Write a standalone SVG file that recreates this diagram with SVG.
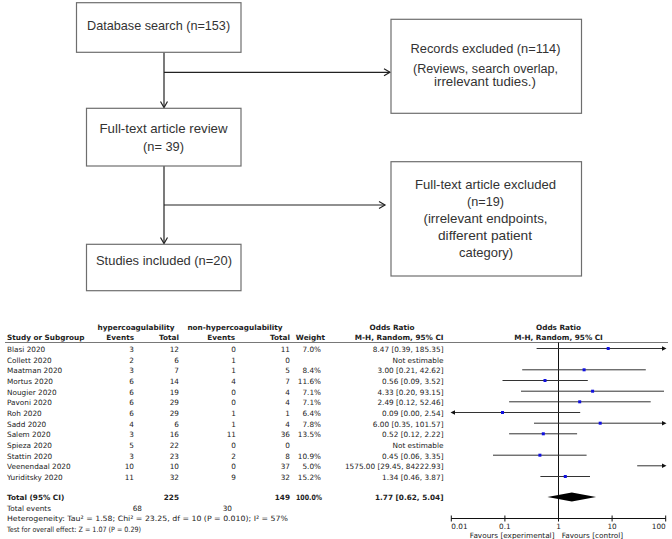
<svg xmlns="http://www.w3.org/2000/svg" width="672" height="539" viewBox="0 0 672 539">
<defs>
<style>
.box{fill:#fff;stroke:#6e6e6e;stroke-width:1.2}
.ft{font-family:"Liberation Sans",Arial,sans-serif;font-size:13px;fill:#333;text-anchor:middle}
.fs{font-size:12px}
.conn{stroke:#222;stroke-width:1.2;fill:none}
.t{font-family:"DejaVu Sans",Verdana,sans-serif;font-size:7.3px;fill:#222}
.b{font-weight:bold}
.e{text-anchor:end}
.m{text-anchor:middle}
.ci{stroke:#333;stroke-width:1;fill:none}
.pt{fill:#1010e0}
.ax{stroke:#111;stroke-width:1;fill:none}
</style>
<marker id="arr" markerWidth="10" markerHeight="10" refX="8" refY="5" orient="auto" markerUnits="userSpaceOnUse">
<polyline points="2,1.5 8,5 2,8.5" fill="none" stroke="#222" stroke-width="1.2"/>
</marker>
</defs>
<rect width="672" height="539" fill="#fff"/>

<g id="connectors">
<line class="conn" x1="164" y1="52.3" x2="164" y2="107.5" marker-end="url(#arr)"/>
<line class="conn" x1="164" y1="72.3" x2="390" y2="72.3" marker-end="url(#arr)"/>
<line class="conn" x1="164" y1="166" x2="164" y2="243.5" marker-end="url(#arr)"/>
<line class="conn" x1="164" y1="205" x2="385" y2="205" marker-end="url(#arr)"/>
</g>

<g id="database-search">
<rect class="box" x="76.5" y="2.7" width="164.5" height="49.6"/>
<text class="ft" x="158.6" y="29.5" textLength="143" lengthAdjust="spacingAndGlyphs">Database search (n=153)</text>
</g>
<g id="records-excluded">
<rect class="box" x="391" y="19.3" width="190.5" height="94"/>
<text class="ft" x="485.5" y="52.5" textLength="150" lengthAdjust="spacingAndGlyphs">Records excluded (n=114)</text>
<text class="ft fs" x="485.5" y="73" textLength="145" lengthAdjust="spacingAndGlyphs">(Reviews, search overlap,</text>
<text class="ft fs" x="485" y="85.5" textLength="102" lengthAdjust="spacingAndGlyphs">irrelevant tudies.)</text>
</g>
<g id="full-text-review">
<rect class="box" x="86.5" y="108.3" width="154.5" height="57.7"/>
<text class="ft" x="163.5" y="133" textLength="128" lengthAdjust="spacingAndGlyphs">Full-text article review</text>
<text class="ft" x="163.5" y="150.5" textLength="41" lengthAdjust="spacingAndGlyphs">(n= 39)</text>
</g>
<g id="full-text-excluded">
<rect class="box" x="391" y="161.7" width="190.5" height="114.3"/>
<text class="ft" x="485.5" y="188.5" textLength="141" lengthAdjust="spacingAndGlyphs">Full-text article excluded</text>
<text class="ft" x="485.5" y="206" textLength="37" lengthAdjust="spacingAndGlyphs">(n=19)</text>
<text class="ft" x="485.5" y="223" textLength="124" lengthAdjust="spacingAndGlyphs">(irrelevant endpoints,</text>
<text class="ft" x="485" y="240" textLength="94" lengthAdjust="spacingAndGlyphs">different patient</text>
<text class="ft" x="486" y="256.7" textLength="54" lengthAdjust="spacingAndGlyphs">category)</text>
</g>
<g id="studies-included">
<rect class="box" x="86.5" y="244.3" width="154.5" height="46.4"/>
<text class="ft" x="164" y="264.5" textLength="136" lengthAdjust="spacingAndGlyphs">Studies included (n=20)</text>
</g>

<g id="forest-table">
<text class="t b m" x="136" y="329.5">hypercoagulability</text>
<text class="t b m" x="235" y="329.5">non-hypercoagulability</text>
<text class="t b m" x="392" y="329.5">Odds Ratio</text>
<text class="t b m" x="558.5" y="329.5">Odds Ratio</text>
<text class="t b" x="7" y="340">Study or Subgroup</text>
<text class="t b e" x="134" y="340">Events</text>
<text class="t b e" x="179" y="340">Total</text>
<text class="t b e" x="235" y="340">Events</text>
<text class="t b e" x="290" y="340">Total</text>
<text class="t b e" x="325" y="340">Weight</text>
<text class="t b e" x="443.5" y="340">M-H, Random, 95% CI</text>
<text class="t b m" x="558.5" y="340">M-H, Random, 95% CI</text>
<line x1="5" y1="342.5" x2="668" y2="342.5" stroke="#555" stroke-width="0.8"/>

<g id="row-names">
<text class="t" x="7" y="351.8">Blasi 2020</text>
<text class="t" x="7" y="362.5">Collett 2020</text>
<text class="t" x="7" y="373.1">Maatman 2020</text>
<text class="t" x="7" y="383.8">Mortus 2020</text>
<text class="t" x="7" y="394.5">Nougier 2020</text>
<text class="t" x="7" y="405.1">Pavoni 2020</text>
<text class="t" x="7" y="415.8">Roh 2020</text>
<text class="t" x="7" y="426.5">Sadd 2020</text>
<text class="t" x="7" y="437.1">Salem 2020</text>
<text class="t" x="7" y="447.8">Spieza 2020</text>
<text class="t" x="7" y="458.5">Stattin 2020</text>
<text class="t" x="7" y="469.1">Veenendaal 2020</text>
<text class="t" x="7" y="479.8">Yuriditsky 2020</text>
</g>
<g id="col-hyper-events">
<text class="t e" x="134" y="351.8">3</text>
<text class="t e" x="134" y="362.5">2</text>
<text class="t e" x="134" y="373.1">3</text>
<text class="t e" x="134" y="383.8">6</text>
<text class="t e" x="134" y="394.5">6</text>
<text class="t e" x="134" y="405.1">6</text>
<text class="t e" x="134" y="415.8">6</text>
<text class="t e" x="134" y="426.5">4</text>
<text class="t e" x="134" y="437.1">3</text>
<text class="t e" x="134" y="447.8">5</text>
<text class="t e" x="134" y="458.5">3</text>
<text class="t e" x="134" y="469.1">10</text>
<text class="t e" x="134" y="479.8">11</text>
</g>
<g id="col-hyper-total">
<text class="t e" x="179" y="351.8">12</text>
<text class="t e" x="179" y="362.5">6</text>
<text class="t e" x="179" y="373.1">7</text>
<text class="t e" x="179" y="383.8">14</text>
<text class="t e" x="179" y="394.5">19</text>
<text class="t e" x="179" y="405.1">29</text>
<text class="t e" x="179" y="415.8">29</text>
<text class="t e" x="179" y="426.5">6</text>
<text class="t e" x="179" y="437.1">16</text>
<text class="t e" x="179" y="447.8">22</text>
<text class="t e" x="179" y="458.5">23</text>
<text class="t e" x="179" y="469.1">10</text>
<text class="t e" x="179" y="479.8">32</text>
</g>
<g id="col-non-events">
<text class="t e" x="236" y="351.8">0</text>
<text class="t e" x="236" y="362.5">1</text>
<text class="t e" x="236" y="373.1">1</text>
<text class="t e" x="236" y="383.8">4</text>
<text class="t e" x="236" y="394.5">0</text>
<text class="t e" x="236" y="405.1">0</text>
<text class="t e" x="236" y="415.8">1</text>
<text class="t e" x="236" y="426.5">1</text>
<text class="t e" x="236" y="437.1">11</text>
<text class="t e" x="236" y="447.8">0</text>
<text class="t e" x="236" y="458.5">2</text>
<text class="t e" x="236" y="469.1">0</text>
<text class="t e" x="236" y="479.8">9</text>
</g>
<g id="col-non-total">
<text class="t e" x="290" y="351.8">11</text>
<text class="t e" x="290" y="362.5">0</text>
<text class="t e" x="290" y="373.1">5</text>
<text class="t e" x="290" y="383.8">7</text>
<text class="t e" x="290" y="394.5">4</text>
<text class="t e" x="290" y="405.1">4</text>
<text class="t e" x="290" y="415.8">1</text>
<text class="t e" x="290" y="426.5">4</text>
<text class="t e" x="290" y="437.1">36</text>
<text class="t e" x="290" y="447.8">0</text>
<text class="t e" x="290" y="458.5">8</text>
<text class="t e" x="290" y="469.1">37</text>
<text class="t e" x="290" y="479.8">32</text>
</g>
<g id="col-weight">
<text class="t e" x="321" y="351.8">7.0%</text>
<text class="t e" x="321" y="373.1">8.4%</text>
<text class="t e" x="321" y="383.8">11.6%</text>
<text class="t e" x="321" y="394.5">7.1%</text>
<text class="t e" x="321" y="405.1">7.1%</text>
<text class="t e" x="321" y="415.8">6.4%</text>
<text class="t e" x="321" y="426.5">7.8%</text>
<text class="t e" x="321" y="437.1">13.5%</text>
<text class="t e" x="321" y="458.5">10.9%</text>
<text class="t e" x="321" y="469.1">5.0%</text>
<text class="t e" x="321" y="479.8">15.2%</text>
</g>
<g id="col-or">
<text class="t e" x="443.5" y="351.8">8.47 [0.39, 185.35]</text>
<text class="t e" x="443.5" y="362.5">Not estimable</text>
<text class="t e" x="443.5" y="373.1">3.00 [0.21, 42.62]</text>
<text class="t e" x="443.5" y="383.8">0.56 [0.09, 3.52]</text>
<text class="t e" x="443.5" y="394.5">4.33 [0.20, 93.15]</text>
<text class="t e" x="443.5" y="405.1">2.49 [0.12, 52.46]</text>
<text class="t e" x="443.5" y="415.8">0.09 [0.00, 2.54]</text>
<text class="t e" x="443.5" y="426.5">6.00 [0.35, 101.57]</text>
<text class="t e" x="443.5" y="437.1">0.52 [0.12, 2.22]</text>
<text class="t e" x="443.5" y="447.8">Not estimable</text>
<text class="t e" x="443.5" y="458.5">0.45 [0.06, 3.35]</text>
<text class="t e" x="443.5" y="469.1">1575.00 [29.45, 84222.93]</text>
<text class="t e" x="443.5" y="479.8">1.34 [0.46, 3.87]</text>
</g>
<g id="totals">
<text class="t b" x="7" y="500.2">Total (95% CI)</text>
<text class="t b e" x="179" y="500.2">225</text>
<text class="t b e" x="290" y="500.2">149</text>
<text class="t b e" x="322" y="500.2" textLength="26" lengthAdjust="spacingAndGlyphs">100.0%</text>
<text class="t b e" x="443.5" y="500.2">1.77 [0.62, 5.04]</text>
<text class="t" x="7" y="510.9">Total events</text>
<text class="t e" x="142" y="510.9">68</text>
<text class="t e" x="232" y="510.9">30</text>
<text class="t" x="7" y="521.2" textLength="281" lengthAdjust="spacingAndGlyphs">Heterogeneity: Tau² = 1.58; Chi² = 23.25, df = 10 (P = 0.010); I² = 57%</text>
<text class="t" x="7" y="531.6" textLength="134" lengthAdjust="spacingAndGlyphs">Test for overall effect: Z = 1.07 (P = 0.29)</text>
</g>
</g>

<g id="forest-plot">
<line class="ax" x1="558.5" y1="342.5" x2="558.5" y2="518.5"/>
<g id="ci-lines">
<line class="ci" x1="536.6" y1="348.5" x2="663" y2="348.5"/>
<polygon points="666.5,348.5 662,346.3 662,350.7" fill="#111"/>
<line class="ci" x1="522.2" y1="369.8" x2="645.8" y2="369.8"/>
<line class="ci" x1="502.5" y1="380.5" x2="587.8" y2="380.5"/>
<line class="ci" x1="521.0" y1="391.2" x2="664.0" y2="391.2"/>
<line class="ci" x1="509.1" y1="401.8" x2="650.7" y2="401.8"/>
<line class="ci" x1="454" y1="412.5" x2="580.2" y2="412.5"/>
<polygon points="450.5,412.5 455,410.3 455,414.7" fill="#111"/>
<line class="ci" x1="534.0" y1="423.2" x2="663" y2="423.2"/>
<polygon points="666.5,423.2 662,421 662,425.4" fill="#111"/>
<line class="ci" x1="509.1" y1="433.8" x2="577.1" y2="433.8"/>
<line class="ci" x1="493.0" y1="455.2" x2="586.6" y2="455.2"/>
<line class="ci" x1="637.2" y1="465.8" x2="663" y2="465.8"/>
<polygon points="666.5,465.8 662,463.6 662,468" fill="#111"/>
<line class="ci" x1="540.4" y1="476.5" x2="590.0" y2="476.5"/>
</g>
<g id="points">
<rect class="pt" x="606.7" y="347" width="3" height="3"/>
<rect class="pt" x="582.6" y="368.3" width="3" height="3"/>
<rect class="pt" x="543.5" y="379" width="3" height="3"/>
<rect class="pt" x="591.1" y="389.7" width="3" height="3"/>
<rect class="pt" x="578.2" y="400.3" width="3" height="3"/>
<rect class="pt" x="501" y="411" width="3" height="3"/>
<rect class="pt" x="598.7" y="421.7" width="3" height="3"/>
<rect class="pt" x="541.8" y="432.3" width="3" height="3"/>
<rect class="pt" x="538.4" y="453.7" width="3" height="3"/>
<rect class="pt" x="563.8" y="475" width="3" height="3"/>
</g>
<polygon id="summary-diamond" points="547.4,497 571.8,492.5 596.1,497 571.8,501.5" fill="#000"/>
<g id="axis">
<line class="ax" x1="451.3" y1="518.5" x2="665.7" y2="518.5"/>
<line class="ax" x1="451.3" y1="515.5" x2="451.3" y2="521.5"/>
<line class="ax" x1="504.9" y1="515.5" x2="504.9" y2="521.5"/>
<line class="ax" x1="558.5" y1="515.5" x2="558.5" y2="521.5"/>
<line class="ax" x1="612.1" y1="515.5" x2="612.1" y2="521.5"/>
<line class="ax" x1="665.7" y1="515.5" x2="665.7" y2="521.5"/>
<text class="t" x="451.3" y="529.3">0.01</text>
<text class="t m" x="504.9" y="529.3">0.1</text>
<text class="t m" x="558.5" y="529.3">1</text>
<text class="t m" x="612.1" y="529.3">10</text>
<text class="t e" x="665.7" y="529.3">100</text>
<text class="t e" x="554.5" y="538">Favours [experimental]</text>
<text class="t" x="561.7" y="538">Favours [control]</text>
</g>
</g>
</svg>
